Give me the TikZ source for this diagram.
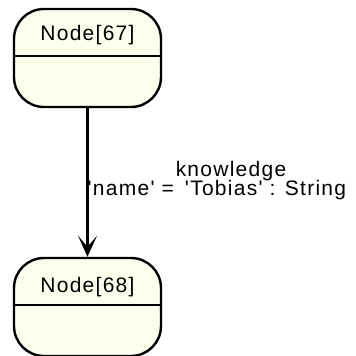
\documentclass[tikz,border=0pt]{standalone}
\usepackage{fontspec}
\usetikzlibrary{arrows.meta}
\newfontfamily\lblfont{Liberation Sans}[LetterSpace=6]
\definecolor{nodefill}{HTML}{FEFEEE}
\tikzset{
  objbox/.style={draw=black, line width=2.4pt, fill=nodefill, rounded corners=30pt,
    minimum width=147pt, minimum height=98pt, inner sep=0pt},
  lbl/.style={font=\lblfont\fontsize{21}{24}\selectfont, inner sep=0pt, text=black},
  link/.style={line width=2.4pt, -{Stealth[length=21pt, width=19pt, inset=11pt]}}
}
\begin{document}
\begin{tikzpicture}[x=1pt, y=-1pt]
\useasboundingbox (0,0) rectangle (356,356);
\node[objbox] (n67) at (87.5,58) {};
\node[objbox] (n68) at (87.5,307) {};
\draw[line width=2.4pt] ([yshift=-48pt]n67.north west) -- ([yshift=-48pt]n67.north east);
\draw[line width=2.4pt] ([yshift=-48pt]n68.north west) -- ([yshift=-48pt]n68.north east);
\node[lbl, anchor=base] (t67) at (87.5,40) {Node[67]};
\node[lbl, anchor=base] (t68) at (87.5,292.5) {Node[68]};
\draw[link] (n67.south) -- (n68.north);
\node[lbl, anchor=base] (k) at (231,176) {knowledge};
\node[lbl, anchor=base west] (attr) at (87.5,195.5) {'name' =\hspace{4pt} 'Tobias' : String};
\end{tikzpicture}
\end{document}
